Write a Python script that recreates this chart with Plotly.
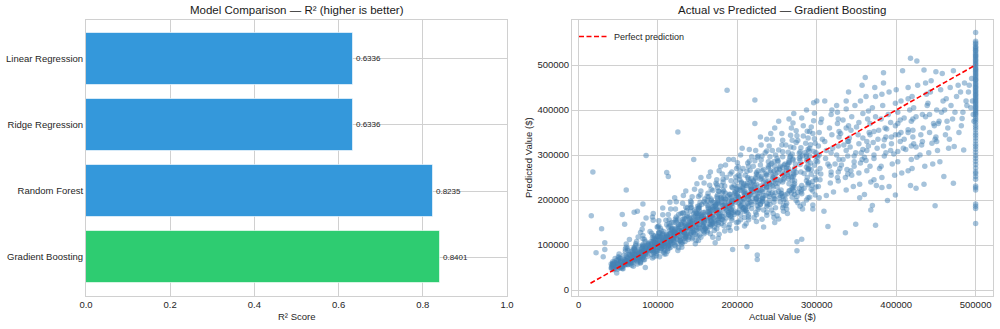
import plotly.graph_objects as go

# ---------------- data ----------------
models = ["Gradient Boosting", "Random Forest", "Ridge Regression", "Linear Regression"]
r2_scores = [0.8401, 0.8235, 0.6336, 0.6336]
bar_colors = ["#2ecc71", "#3498db", "#3498db", "#3498db"]
r2_ticks = [0.0, 0.2, 0.4, 0.6, 0.8, 1.0]

# Actual vs predicted (Gradient Boosting), (actual, predicted) in thousands of $
outliers_k = [(16,165),(18,262),(29,136),(22,83),(31,74),(33,105),(33,90),(60,222),(85,299),(55,168),(58,146),
              (70,173),(74,175),(48,38),(84,50),(93,162),(275,87),(275,107),(281,113)]
cloud_k = [
    (43,51),(41,58),(44,55),(41,49),(45,62),(49,46),(42,54),(46,60),(45,52),(43,57),(45,47),(48,66),(49,59),(47,53),(49,50),(43,63),(42,48),(43,57),(48,61),(44,54),(46,70),(42,50),(46,56),(44,45),(43,59),
    (53,63),(58,55),(53,70),(52,49),(57,58),(59,66),(55,52),(50,74),(52,61),(58,57),(58,68),(54,50),(51,80),(59,64),(57,59),(51,72),(56,47),(59,66),(53,54),(59,91),(59,60),(53,62),(57,77),(55,53),(51,56),(50,67),(55,48),(58,62),(52,70),(50,58),(59,86),(57,59),(54,65),
    (69,71),(64,64),(64,79),(65,58),(69,68),(62,88),(63,62),(60,75),(67,55),(68,82),(61,73),(66,60),(64,67),(60,95),(66,76),(62,57),(68,66),(66,85),(62,70),(60,102),(68,79),(69,53),(69,72),(68,61),(66,69),(62,92),(68,74),(60,57),(63,64),(64,77),(68,87),(62,56),(65,63),(63,80),(64,112),(62,70),(61,65),
    (71,80),(77,72),(70,91),(76,66),(77,77),(79,85),(78,61),(72,103),(71,79),(74,70),(78,74),(70,95),(78,64),(76,84),(75,118),(71,69),(73,81),(72,88),(78,60),(72,99),(73,67),(70,80),(76,89),(76,75),(74,63),(77,72),(70,93),(79,78),(73,108),(78,82),(74,86),(74,58),(76,98),(70,65),(79,86),(75,79),(75,71),(70,90),(75,74),(78,128),(72,76),
    (82,90),(83,82),(81,101),(87,75),(82,97),(85,86),(83,112),(85,79),(89,88),(84,94),(80,70),(88,104),(81,84),(82,77),(88,91),(84,80),(88,99),(81,121),(81,96),(81,72),(87,89),(84,108),(85,83),(80,93),(82,68),(88,86),(84,92),(81,74),(80,135),(82,87),(87,102),(80,78),(81,114),(89,94),(83,67),(88,100),(85,97),(82,81),(81,99),(81,146),(80,92),(81,191),(85,160),
    (95,100),(99,91),(96,112),(94,84),(94,98),(96,105),(92,79),(92,126),(99,95),(94,88),(98,102),(99,118),(95,82),(94,109),(99,140),(93,90),(90,96),(93,116),(98,76),(91,107),(99,86),(96,99),(94,121),(94,93),(92,101),(98,81),(98,113),(91,89),(90,130),(99,97),(97,110),(95,74),(96,104),(96,86),(95,115),(99,103),(93,71),(93,95),(94,108),(94,155),(96,120),(91,92),(92,104),(98,87),(94,170),
    (107,110),(105,99),(106,124),(104,92),(108,106),(102,116),(103,87),(103,137),(107,104),(108,97),(106,113),(107,130),(108,90),(103,119),(101,154),(106,101),(105,111),(102,126),(107,84),(101,118),(102,95),(100,105),(101,143),(109,102),(100,109),(109,88),(101,128),(104,99),(105,121),(106,108),(104,132),(108,80),(105,116),(106,96),(106,125),(109,112),(102,74),(103,104),(104,100),(106,167),(100,140),(103,107),(104,92),(108,98),(106,182),(101,127),(100,120),
    (114,115),(115,108),(114,131),(113,100),(112,118),(116,126),(116,95),(114,147),(118,114),(112,104),(111,123),(113,140),(113,97),(119,128),(113,168),(116,110),(110,117),(117,137),(112,91),(116,126),(110,103),(112,120),(114,156),(119,111),(111,121),(114,93),(111,145),(112,106),(117,133),(113,113),(117,150),(112,86),(114,124),(115,100),(118,135),(117,120),(110,80),(110,116),(116,105),(116,180),(110,155),(116,110),(113,98),(111,118),(115,195),(115,142),(118,138),(118,104),(111,261),(113,252),
    (121,125),(127,118),(124,139),(128,110),(128,129),(121,135),(125,104),(122,158),(120,122),(129,114),(122,128),(120,150),(129,106),(126,141),(122,180),(128,119),(122,127),(129,146),(122,98),(125,136),(124,113),(120,130),(129,170),(121,120),(127,132),(121,100),(125,157),(123,115),(126,145),(124,124),(123,162),(126,94),(127,138),(128,109),(129,146),(122,131),(125,88),(129,126),(120,116),(123,196),(126,168),(120,121),(120,106),(121,128),(121,205),(123,154),(123,150),(120,110),(125,351),
    (135,136),(133,127),(130,150),(135,119),(134,141),(138,146),(138,112),(132,171),(130,132),(134,124),(136,139),(136,163),(135,115),(132,153),(131,193),(133,128),(138,138),(134,158),(131,106),(134,148),(136,122),(139,117),(135,184),(131,131),(139,143),(134,108),(131,171),(135,126),(131,157),(131,134),(136,176),(130,102),(139,150),(134,119),(133,159),(133,142),(130,95),(135,137),(137,126),(132,210),(137,182),(130,130),(133,115),(136,140),(135,220),(137,166),(135,118),(139,162),(135,144),
    (149,147),(141,137),(149,161),(145,128),(143,152),(140,158),(149,121),(142,184),(141,143),(148,133),(146,150),(141,175),(141,124),(147,165),(143,207),(148,139),(141,149),(149,170),(143,114),(142,159),(146,132),(141,126),(141,198),(147,142),(149,154),(143,117),(141,183),(140,136),(145,169),(141,145),(141,189),(148,110),(145,162),(144,129),(148,171),(140,153),(147,103),(144,148),(144,136),(146,224),(142,195),(143,140),(147,124),(149,157),(149,236),(146,178),(142,128),(147,174),(144,155),(145,290),
    (155,157),(156,146),(157,172),(153,137),(155,163),(151,169),(158,129),(158,196),(155,153),(157,142),(155,161),(152,187),(157,132),(152,176),(154,220),(158,149),(159,160),(151,182),(152,121),(152,170),(157,141),(159,135),(153,211),(158,152),(151,165),(158,125),(153,195),(150,145),(151,181),(151,156),(159,202),(154,117),(159,173),(151,138),(152,183),(157,164),(151,110),(158,158),(152,145),(158,238),(151,208),(158,150),(152,133),(158,168),(154,250),(155,190),(159,137),(150,186),(154,166),
    (165,167),(162,155),(163,183),(165,146),(163,174),(166,180),(160,137),(162,208),(168,163),(167,151),(164,171),(167,199),(161,140),(163,187),(165,233),(162,158),(166,170),(166,193),(162,129),(164,181),(169,150),(167,144),(167,224),(165,162),(167,176),(162,133),(164,207),(167,154),(160,192),(169,166),(163,215),(166,125),(169,184),(169,147),(169,195),(165,175),(169,117),(165,168),(167,155),(164,252),(169,221),(166,160),(166,141),(169,179),(166,262),(167,202),(166,146),(162,198),
    (177,177),(177,164),(172,194),(174,155),(170,185),(177,191),(176,145),(176,220),(173,173),(170,160),(173,182),(175,211),(173,148),(175,198),(174,245),(177,167),(175,180),(179,205),(174,136),(175,192),(177,159),(171,152),(173,237),(178,171),(172,187),(171,140),(177,219),(178,163),(175,204),(172,176),(175,228),(171,132),(176,195),(176,156),(174,207),(172,186),(177,124),(174,178),(172,164),(177,265),(174,234),(176,170),(176,150),(173,190),(179,275),(176,115),(172,105),
    (181,187),(189,173),(183,205),(182,163),(180,195),(180,202),(183,153),(180,232),(185,183),(189,168),(189,192),(182,222),(181,156),(188,209),(181,258),(187,176),(184,190),(181,216),(183,143),(185,203),(189,167),(186,160),(186,250),(182,181),(189,197),(180,148),(184,231),(183,171),(185,215),(187,186),(182,240),(189,139),(180,206),(180,164),(183,219),(183,196),(184,131),(182,188),(189,172),(185,278),(182,246),(186,180),(180,158),(185,201),(189,290),(185,187),(187,444),
    (193,196),(190,181),(197,215),(193,171),(198,205),(191,212),(193,160),(192,243),(193,192),(192,176),(198,201),(196,233),(192,164),(197,219),(199,270),(194,185),(193,199),(194,227),(199,150),(190,213),(197,175),(196,168),(193,262),(192,190),(193,207),(193,155),(198,242),(192,179),(199,225),(198,195),(198,251),(190,145),(197,216),(195,172),(193,229),(191,205),(199,137),(195,197),(192,180),(195,290),(191,258),(190,189),(191,165),(199,211),(194,90),(191,132),
    (201,205),(205,189),(207,226),(203,178),(208,215),(203,222),(204,167),(201,255),(208,200),(207,183),(209,210),(203,245),(200,171),(207,230),(200,283),(202,193),(201,208),(205,238),(204,156),(200,224),(208,182),(209,175),(201,274),(204,198),(209,217),(209,161),(203,253),(204,186),(208,236),(208,203),(204,264),(201,151),(206,227),(207,179),(205,240),(200,214),(209,142),(202,206),(204,188),(204,300),(207,270),(206,197),(201,172),(204,221),(206,315),(200,230),
    (216,213),(216,196),(218,236),(210,184),(218,224),(212,231),(212,173),(216,266),(214,208),(218,190),(210,219),(210,255),(211,177),(216,240),(218,296),(214,201),(217,216),(217,248),(214,162),(211,233),(211,189),(218,181),(215,286),(213,206),(217,226),(214,167),(212,264),(213,193),(214,246),(215,211),(214,275),(214,156),(212,237),(214,186),(213,250),(217,223),(211,147),(210,214),(217,195),(215,312),(213,282),(219,204),(210,178),(217,230),(212,96),
    (224,221),(224,203),(229,246),(229,190),(222,233),(220,240),(226,179),(229,278),(228,216),(223,196),(223,228),(226,265),(227,183),(223,250),(223,310),(226,208),(222,224),(224,258),(224,167),(220,243),(226,195),(225,187),(226,298),(226,214),(224,235),(223,172),(220,275),(228,199),(226,256),(220,219),(222,287),(221,161),(223,247),(229,191),(224,261),(229,231),(224,152),(226,222),(223,202),(229,340),(225,295),(222,211),(222,370),(224,205),(225,78),(225,68),(222,422),
    (237,229),(233,210),(237,255),(231,196),(239,242),(230,249),(237,185),(230,289),(232,224),(231,203),(237,236),(239,275),(238,189),(236,259),(230,322),(239,215),(234,232),(233,268),(237,173),(230,252),(232,202),(237,193),(237,309),(230,221),(235,244),(233,178),(239,285),(232,206),(231,265),(237,227),(231,298),(237,166),(236,256),(232,198),(239,271),(233,240),(231,157),(237,230),(236,210),(237,335),(235,305),(232,219),(233,140),
    (248,237),(244,216),(246,264),(247,202),(244,251),(248,258),(241,190),(248,300),(244,232),(246,209),(247,245),(246,285),(246,195),(249,268),(244,335),(240,222),(245,240),(241,278),(243,178),(242,261),(240,208),(240,199),(240,320),(245,229),(246,253),(248,183),(241,296),(242,213),(247,275),(241,235),(244,310),(245,170),(242,265),(246,204),(243,281),(245,249),(246,161),(240,238),(248,216),(242,348),(247,360),(247,150),
    (258,245),(255,222),(257,273),(257,208),(251,261),(253,268),(254,196),(252,311),(257,240),(255,215),(257,254),(257,296),(258,200),(259,278),(256,348),(250,229),(259,249),(251,288),(257,183),(253,271),(256,214),(253,205),(257,333),(251,237),(257,262),(258,188),(257,307),(252,219),(251,285),(254,243),(256,322),(258,175),(254,275),(254,210),(250,292),(259,258),(250,165),(251,246),(252,375),(252,158),
    (264,253),(269,229),(265,282),(263,214),(264,270),(263,278),(260,202),(261,322),(264,247),(266,221),(265,262),(264,306),(269,206),(265,287),(268,360),(265,236),(263,257),(267,298),(261,188),(260,280),(265,220),(260,211),(267,344),(269,244),(262,271),(262,193),(267,318),(269,225),(266,295),(268,251),(269,333),(262,180),(265,284),(268,216),(269,302),(262,266),(263,170),(265,380),
    (274,261),(272,236),(270,291),(271,220),(279,279),(279,287),(275,208),(276,332),(271,255),(271,228),(272,270),(271,316),(272,212),(279,296),(270,371),(272,243),(271,265),(279,307),(276,194),(270,289),(278,226),(276,217),(274,354),(270,252),(273,280),(274,199),(274,328),(271,232),(278,304),(271,259),(275,343),(279,186),(278,292),(271,392),
    (289,269),(287,243),(287,300),(284,226),(287,288),(287,296),(281,214),(283,342),(280,262),(289,234),(289,278),(286,326),(280,218),(285,305),(281,382),(288,250),(287,273),(280,316),(287,200),(282,298),(281,232),(281,223),(283,365),(284,259),(289,289),(289,205),(289,338),(289,238),(289,313),(289,267),(288,353),(283,191),(287,400),(282,180),
    (297,277),(298,250),(290,309),(294,232),(299,297),(299,305),(295,220),(291,352),(290,270),(295,241),(299,287),(297,336),(293,224),(291,315),(297,393),(293,257),(292,282),(298,326),(291,206),(296,308),(290,239),(299,229),(296,376),(293,267),(291,298),(298,211),(295,348),(299,245),(292,323),(296,416),(295,189),(293,362),(295,180),
]
sparse_k = [
    (304,270),(301,295),(304,245),(302,320),(301,285),(303,350),(305,258),(306,380),(302,230),(303,205),(307,335),(303,300),(300,420),(309,175),(305,372),(300,262),
    (314,280),(318,305),(318,255),(310,330),(311,292),(316,360),(318,262),(318,390),(317,238),(312,210),(314,141),(312,310),(310,420),(319,345),(316,275),(319,400),
    (328,290),(320,315),(327,262),(328,340),(325,300),(326,370),(329,270),(326,395),(327,242),(321,218),(328,352),(327,320),(325,410),(323,280),(327,380),(326,250),
    (339,298),(334,322),(338,268),(330,348),(337,310),(333,378),(331,278),(337,402),(336,250),(336,127),(337,360),(339,330),(337,420),(333,290),(337,222),(339,258),
    (349,305),(340,330),(347,275),(343,355),(342,318),(344,385),(347,285),(348,410),(344,255),(346,230),(349,146),(341,338),(340,440),(347,298),(340,365),(343,265),
    (358,312),(358,338),(355,282),(350,362),(353,325),(358,392),(357,290),(355,420),(353,260),(354,235),(353,372),(352,345),(357,455),(356,305),(354,205),(361,472),
    (365,320),(367,345),(362,288),(367,370),(363,330),(365,398),(360,295),(368,178),(363,265),(368,240),(364,380),(366,350),(362,430),(363,310),(360,212),(367,275),
    (371,328),(372,352),(372,292),(374,144),(377,335),(370,405),(372,300),(374,430),(379,270),(372,245),(374,385),(378,355),(373,450),(376,315),(370,188),(375,232),
    (385,334),(388,358),(385,298),(384,483),(387,340),(383,410),(387,305),(382,435),(381,275),(382,250),(389,199),(386,360),(384,460),(384,320),(381,380),(382,228),
    (394,340),(399,365),(397,302),(390,390),(399,345),(399,415),(393,310),(399,211),(395,280),(398,255),(393,372),(391,440),(394,325),(391,230),
    (403,345),(402,370),(402,308),(402,395),(406,350),(406,420),(408,487),(409,315),(402,285),(407,260),(405,378),(400,445),(405,330),
    (415,350),(419,375),(412,312),(417,400),(415,356),(415,425),(418,515),(418,232),(419,320),(419,290),(415,265),(410,382),(415,450),(410,335),
    (421,355),(421,380),(425,318),(422,405),(425,226),(426,509),(422,325),(420,430),(426,295),(420,270),(425,385),(427,455),(421,340),
    (434,360),(437,385),(432,322),(439,410),(435,235),(435,489),(433,330),(438,435),(430,300),(436,275),(433,390),(437,460),(431,345),
    (448,365),(442,390),(445,326),(440,415),(447,370),(443,440),(449,335),(449,187),(441,305),(446,280),(450,485),(444,465),(442,350),
    (453,370),(457,395),(451,330),(459,420),(454,375),(456,445),(458,481),(450,340),(452,310),(455,285),(460,252),(451,400),
    (464,375),(461,400),(467,335),(463,425),(468,450),(462,345),(466,315),(469,410),(465,360),
    (472,487),(473,319),(472,237),(476,430),(471,380),(478,455),(474,395),(479,350),
    (485,311),(483,381),(488,420),(481,440),(486,460),(484,395),(489,410),(482,365),
    (494,405),(491,440),(497,390),(495,470),(492,455),(498,375),(496,420),
]
capped_pred_k = [572,553,549,546,541,539,536,533,531,527,524,521,519,516,513,510,507,504,501,498,494,491,489,486,
                 483,480,477,474,471,468,466,463,459,456,453,450,447,444,441,438,435,432,429,426,423,420,417,414,
                 411,408,405,402,399,396,393,390,386,381,377,372,366,361,356,349,344,338,331,324,319,313,306,299,
                 293,286,279,271,263,259,252,246,231,227,222,191,186,181,148]
capped_actual_k = 500
perfect_line_k = [15, 500]
axis_ticks_k = [0, 100, 200, 300, 400, 500]

# ---------------- figure ----------------
points_k = outliers_k + cloud_k + sparse_k + [(capped_actual_k, v) for v in capped_pred_k]
actual = [p[0] * 1000 for p in points_k]
predicted = [p[1] * 1000 for p in points_k]
line_vals = [v * 1000 for v in perfect_line_k]
ticks = [v * 1000 for v in axis_ticks_k]

FONT = "Liberation Sans, Arial, sans-serif"
GRID = "#d0d0d0"
TXT = "#262626"

fig = go.Figure()

bar_pos = list(range(len(models)))
fig.add_trace(go.Bar(
    x=r2_scores, y=bar_pos, orientation="h", width=0.8,
    marker=dict(color=bar_colors, line=dict(color="rgba(255,255,255,0.6)", width=1)),
    showlegend=False, xaxis="x", yaxis="y", hoverinfo="skip",
))

fig.add_trace(go.Scatter(
    x=actual, y=predicted, mode="markers",
    marker=dict(size=5.5, color="rgba(70,130,180,0.48)", line=dict(width=0)),
    showlegend=False, xaxis="x2", yaxis="y2", hoverinfo="skip",
))
fig.add_trace(go.Scatter(
    x=line_vals, y=line_vals, mode="lines", name="Perfect prediction",
    line=dict(color="#ff0000", width=1.6, dash="5px,2.5px"),
    xaxis="x2", yaxis="y2",
))

annotations = []
for v, p in zip(r2_scores, bar_pos):
    annotations.append(dict(x=v + 0.004, y=p, xref="x", yref="y", text=f"{v:.4f}",
                            showarrow=False, xanchor="left", yanchor="middle",
                            font=dict(size=8, color=TXT, family=FONT)))

annotations += [
    dict(x=0.2965, y=1 - 10 / 329, xref="paper", yref="paper", text="Model Comparison — R² (higher is better)",
         showarrow=False, xanchor="center", yanchor="middle", font=dict(size=11.5, color="#1a1a1a", family=FONT)),
    dict(x=0.782, y=1 - 10 / 329, xref="paper", yref="paper", text="Actual vs Predicted — Gradient Boosting",
         showarrow=False, xanchor="center", yanchor="middle", font=dict(size=11.5, color="#1a1a1a", family=FONT)),
    dict(x=0.2965, y=1 - 316 / 329, xref="paper", yref="paper", text="R² Score",
         showarrow=False, xanchor="center", yanchor="middle", font=dict(size=9.5, color=TXT, family=FONT)),
    dict(x=0.782, y=1 - 316 / 329, xref="paper", yref="paper", text="Actual Value ($)",
         showarrow=False, xanchor="center", yanchor="middle", font=dict(size=9.5, color=TXT, family=FONT)),
    dict(x=0.528, y=1 - 158 / 329, xref="paper", yref="paper", text="Predicted Value ($)", textangle=-90,
         showarrow=False, xanchor="center", yanchor="middle", font=dict(size=9.5, color=TXT, family=FONT)),
]

axis_common = dict(showgrid=True, gridcolor=GRID, gridwidth=1, zeroline=False,
                   showline=True, linecolor=GRID, linewidth=1, mirror=True, automargin=False,
                   ticks="", tickfont=dict(size=9.5, color=TXT, family=FONT))

fig.update_layout(
    width=1000, height=329, autosize=False,
    margin=dict(l=0, r=0, t=0, b=0),
    paper_bgcolor="white", plot_bgcolor="white",
    font=dict(family=FONT, color=TXT),
    xaxis=dict(domain=[0.086, 0.507], range=[0, 1], tickvals=r2_ticks,
               ticktext=[f"{t:.1f}" for t in r2_ticks], anchor="y", **axis_common),
    yaxis=dict(domain=[1 - 296 / 329, 1 - 20 / 329], range=[-0.59, 3.59], tickvals=bar_pos,
               ticktext=models, anchor="x", **axis_common),
    xaxis2=dict(domain=[0.572, 0.993], range=[-8300, 521900], tickvals=ticks, tickformat="d",
                anchor="y2", **axis_common),
    yaxis2=dict(domain=[1 - 296 / 329, 1 - 20 / 329], range=[-13300, 600000], tickvals=ticks, tickformat="d",
                anchor="x2", **axis_common),
    legend=dict(x=0.574, y=1 - 22 / 329, xanchor="left", yanchor="top", bgcolor="rgba(0,0,0,0)",
                font=dict(size=9, color=TXT, family=FONT), itemwidth=30, tracegroupgap=0),
    annotations=annotations,
    bargap=0,
)

fig.write_html("out.html")
